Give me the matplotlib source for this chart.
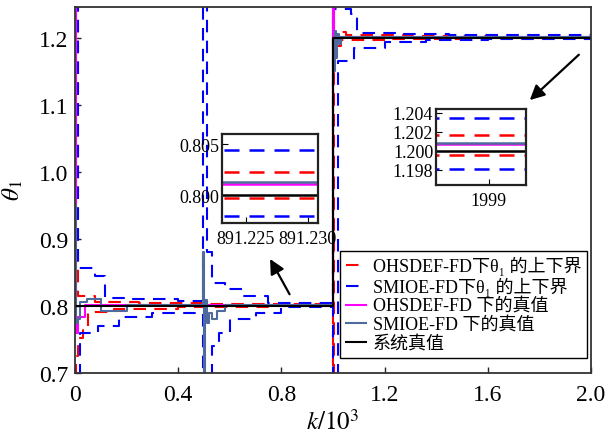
import numpy as np
import matplotlib
matplotlib.use('Agg')
import matplotlib.pyplot as plt

plt.rcParams['font.family'] = ['Liberation Serif', 'Noto Sans CJK SC']
plt.rcParams['mathtext.fontset'] = 'stix'

# step breakpoints, k in units of 10^3
red_up_k = [0, 0.012, 0.078, 0.25, 0.5, 0.75, 1.0, 1.004, 1.05, 1.3, 1.6, 2.0]
red_up = [1.30, 0.815, 0.806, 0.804, 0.803, 0.8023, 1.30, 1.208, 1.204, 1.203, 1.2017, 1.2017]

red_lo_k = [0, 0.004, 0.012, 0.03, 0.05, 0.15, 0.4, 0.75, 1.0, 1.004, 1.03, 1.2, 1.5, 2.0]
red_lo = [0.60, 0.725, 0.752, 0.765, 0.791, 0.796, 0.798, 0.7997, 0.60, 1.188, 1.196, 1.198, 1.1996, 1.1996]

blue_up_k = [0, 0.012, 0.077, 0.116, 0.19, 0.4, 0.495, 0.512, 0.53, 0.58, 0.65, 0.75,
             1.0, 1.004, 1.07, 1.095, 1.25, 1.45, 2.0]
blue_up = [1.30, 0.856, 0.845, 0.812, 0.810, 0.808, 1.30, 0.88, 0.835, 0.825, 0.815, 0.8044,
           1.30, 1.243, 1.236, 1.207, 1.205, 1.2035, 1.2035]

blue_lo_k = [0, 0.02, 0.09, 0.17, 0.3, 0.495, 0.53, 0.56, 0.6, 0.7, 0.8,
             1.0, 1.02, 1.08, 1.2, 1.36, 1.6, 2.0]
blue_lo = [0.60, 0.76, 0.77, 0.784, 0.79, 0.60, 0.74, 0.76, 0.78, 0.79, 0.798,
           0.60, 1.165, 1.184, 1.193, 1.196, 1.1981, 1.1981]

mag_k = [0, 0.004, 0.012, 0.04, 1.0, 1.004, 2.0]
mag = [1.30, 0.76, 0.784, 0.8011, 1.30, 1.2007, 1.2007]

slate_k = [0, 0.004, 0.012, 0.02, 0.045, 0.1, 0.2, 0.495, 0.5, 0.505, 0.512, 0.52, 0.53,
           0.55, 0.58, 1.0, 1.004, 1.008, 1.012, 1.016, 1.022, 1.03, 2.0]
slate = [0.95, 0.775, 0.78, 0.806, 0.811, 0.792, 0.8013, 0.88, 0.70, 0.809, 0.775, 0.79, 0.78,
         0.792, 0.8013, 1.20, 1.15, 1.21, 1.17, 1.205, 1.19, 1.2008, 1.2008]

true_k = [0, 1.0, 2.0]
true_v = [0.8, 1.2, 1.2]

labels = ['OHSDEF-FD下θ₁ 的上下界', 'SMIOE-FD下θ₁ 的上下界',
          'OHSDEF-FD 下的真值', 'SMIOE-FD 下的真值', '系统真值']

RED, BLUE, MAG, SLATE = '#ff0000', '#0000ff', '#ff00ff', '#4f6a9c'
dash = (0, (6, 4))


def draw(ax, scale, lw=1.5):
    kw = dict(drawstyle='steps-post', lw=lw)
    k = lambda a: np.asarray(a) * scale
    ax.plot(k(red_up_k), red_up, color=RED, ls=dash, label=labels[0], **kw)
    ax.plot(k(red_lo_k), red_lo, color=RED, ls=dash, **kw)
    ax.plot(k(blue_up_k), blue_up, color=BLUE, ls=dash, label=labels[1], **kw)
    ax.plot(k(blue_lo_k), blue_lo, color=BLUE, ls=dash, **kw)
    ax.plot(k(mag_k), mag, color=MAG, label=labels[2], **kw)
    ax.plot(k(slate_k), slate, color=SLATE, label=labels[3], **kw)
    ax.plot(k(true_k), true_v, color='k', label=labels[4], **kw)


fig = plt.figure(figsize=(6.11, 4.39), dpi=100)
ax = fig.add_axes([0.1227, 0.148, 0.8445, 0.834])
draw(ax, 1.0)
ax.set_xlim(0, 2.0)
ax.set_ylim(0.7, 1.246)
ax.set_xticks(np.arange(0, 2.01, 0.4))
ax.set_yticks(np.arange(0.7, 1.21, 0.1))
ax.xaxis.set_major_formatter(matplotlib.ticker.FuncFormatter(lambda v, p: '0' if v == 0 else '%.1f' % v))
ax.tick_params(direction='in', length=4, labelsize=17, width=1, color='#222222')
ax.tick_params(axis='x', pad=8)
ax.tick_params(axis='y', pad=5)
for s in ax.spines.values():
    s.set_linewidth(1.3)
    s.set_color('#333333')
ax.set_xlabel(r'$k/10^3$', fontsize=18, labelpad=3)
ax.set_ylabel(r'$\theta_1$', fontsize=18, labelpad=10)

leg = ax.legend(loc='lower right', bbox_to_anchor=(0.992, 0.041), fontsize=13,
                handlelength=1.1, handletextpad=0.4, labelspacing=0.1,
                borderpad=0.3, borderaxespad=0, fancybox=False, framealpha=1)
leg.get_frame().set_edgecolor('k')
leg.get_frame().set_linewidth(1.0)

# zoom windows
ins1 = fig.add_axes([0.3633, 0.4897, 0.1571, 0.2027])
draw(ins1, 1000.0, lw=1.8)
ins1.set_xlim(891.2231, 891.2308)
ins1.set_ylim(0.7973, 0.8060)
ins1.set_xticks([891.225, 891.230])
ins1.set_xticklabels(['891.225', '891.230'])
ins1.set_yticks([0.800, 0.805])
ins1.set_yticklabels(['0.800', '0.805'])

ins2 = fig.add_axes([0.7136, 0.5763, 0.1473, 0.1731])
draw(ins2, 1000.0, lw=1.8)
ins2.set_xlim(1998.3, 1999.5)
ins2.set_ylim(1.1964, 1.2044)
ins2.set_xticks([1999])
ins2.set_xticklabels(['1999'])
ins2.set_yticks([1.198, 1.200, 1.202, 1.204])
ins2.set_yticklabels(['1.198', '1.200', '1.202', '1.204'])

for a in (ins1, ins2):
    a.tick_params(direction='in', length=4, labelsize=13, pad=2)
    a.tick_params(axis='x', pad=5)
    for s in a.spines.values():
        s.set_linewidth(1.6)
        s.set_color('#222222')

arrow = dict(arrowstyle='-|>', color='k', lw=1.6, mutation_scale=22)
ax.annotate('', xy=(0.751, 0.8737), xytext=(0.837, 0.8138), arrowprops=arrow)
ax.annotate('', xy=(1.755, 1.1042), xytext=(1.961, 1.1775), arrowprops=arrow)

fig.savefig('out.png', dpi=100)
